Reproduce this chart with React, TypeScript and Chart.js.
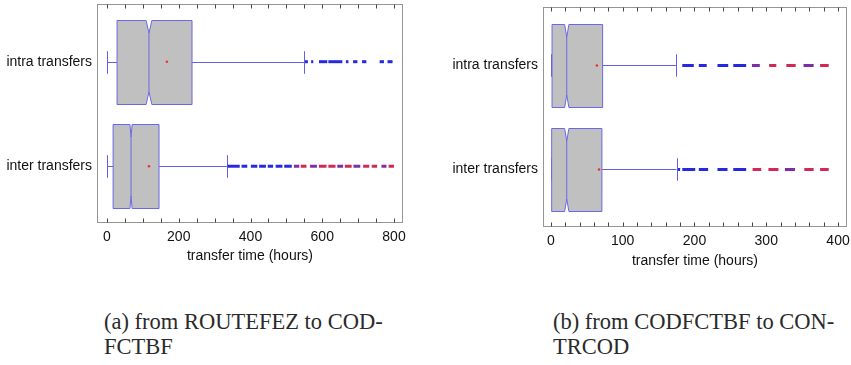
import React, { useEffect, useRef } from "react";
import { Chart, registerables } from "chart.js";

Chart.register(...registerables);

// ---------- data ----------
const CATEGORIES = ["intra transfers", "inter transfers"];

// Panel (a): from ROUTEFEZ to CODFCTBF (hours)
const A_WHISKER_LOW = [0, 0];
const A_Q1 = [28, 17];
const A_MEDIAN = [117, 67];
const A_Q3 = [237, 145];
const A_WHISKER_HIGH = [549, 334];
const A_MEAN = [167, 117];
const A_NOTCH = [8, 3];
const A_OUT_INTRA = [[552, 560], [569, 575], [591, 614], [617, 656], [666, 673], [686, 698], [711, 723], [760, 772], [782, 796]];
const A_OUT_INTRA_COLOR = ["b", "b", "b", "b", "b", "b", "b", "b", "b"];
const A_OUT_INTER = [[336, 370], [375, 391], [401, 419], [424, 443], [448, 463], [470, 489], [494, 515], [521, 536], [540, 556], [566, 585], [591, 612], [617, 637], [642, 658], [663, 682], [687, 706], [714, 731], [738, 753], [765, 779], [785, 800]];
const A_OUT_INTER_COLOR = ["b", "b", "b", "b", "b", "b", "b", "p", "r", "p", "r", "r", "p", "r", "p", "r", "r", "p", "r"];
const A_TICKS = [0, 50, 100, 150, 200, 250, 300, 350, 400, 450, 500, 550, 600, 650, 700, 750, 800];
const A_TICK_LABELS = [0, 200, 400, 600, 800];

// Panel (b): from CODFCTBF to CONTRCOD (hours)
const B_WHISKER_LOW = [0, 0];
const B_Q1 = [1.5, 1];
const B_MEDIAN = [22, 22];
const B_Q3 = [72, 71];
const B_WHISKER_HIGH = [174, 175];
const B_MEAN = [64, 67];
const B_NOTCH = [3, 3];
const B_OUT_INTRA = [[183, 199], [206, 217], [232, 247], [254, 272], [280, 291], [304, 314], [328, 341], [352, 366], [375, 387]];
const B_OUT_INTRA_COLOR = ["b", "b", "b", "b", "p", "r", "r", "p", "r"];
const B_OUT_INTER = [[177, 180], [183, 201], [206, 219], [232, 246], [254, 272], [281, 293], [303, 317], [326, 340], [353, 366], [375, 387]];
const B_OUT_INTER_COLOR = ["b", "b", "b", "b", "b", "r", "r", "p", "r", "r"];
const B_TICKS = [0, 20, 40, 60, 80, 100, 120, 140, 160, 180, 200, 220, 240, 260, 280, 300, 320, 340, 360, 380, 400];
const B_TICK_LABELS = [0, 100, 200, 300, 400];

// ---------- styles ----------
const BOX_STROKE = "rgb(105,105,230)";
const BOX_FILL = "rgb(192,192,192)";
const WHISKER = "rgb(95,95,235)";
const MEAN_COLOR = "rgb(235,50,50)";
const FRAME = "rgb(150,150,150)";
const OUT_COLORS: Record<string, string> = { b: "rgb(40,40,225)", p: "rgb(125,45,165)", r: "rgb(210,40,85)" };
const BOX_HALF = 0.4;
const SANS = "'Liberation Sans', Arial, sans-serif";

type Panel = {
  left: number; width: number; height: number;
  padTop: number; padRight: number; yAxisWidth: number; xAxisHeight: number;
  xMin: number; xMax: number; yMin: number; yMax: number;
  ticks: number[]; tickLabels: number[];
  wLow: number[]; q1: number[]; median: number[]; q3: number[]; wHigh: number[]; mean: number[]; notch: number[];
  outliers: number[][][]; outColors: string[][];
};

const PANEL_A: Panel = {
  left: 0, width: 425, height: 265, padTop: 3, padRight: 22, yAxisWidth: 97, xAxisHeight: 42,
  xMin: -27.9, xMax: 825.1, yMin: -0.552, yMax: 1.543,
  ticks: A_TICKS, tickLabels: A_TICK_LABELS,
  wLow: A_WHISKER_LOW, q1: A_Q1, median: A_MEDIAN, q3: A_Q3, wHigh: A_WHISKER_HIGH, mean: A_MEAN, notch: A_NOTCH,
  outliers: [A_OUT_INTRA, A_OUT_INTER], outColors: [A_OUT_INTRA_COLOR, A_OUT_INTER_COLOR],
};

const PANEL_B: Panel = {
  left: 425, width: 426, height: 270, padTop: 7, padRight: 4, yAxisWidth: 118, xAxisHeight: 43,
  xMin: -11.1, xMax: 412.5, yMin: -0.5625, yMax: 1.553,
  ticks: B_TICKS, tickLabels: B_TICK_LABELS,
  wLow: B_WHISKER_LOW, q1: B_Q1, median: B_MEDIAN, q3: B_Q3, wHigh: B_WHISKER_HIGH, mean: B_MEAN, notch: B_NOTCH,
  outliers: [B_OUT_INTRA, B_OUT_INTER], outColors: [B_OUT_INTRA_COLOR, B_OUT_INTER_COLOR],
};

function makePlugin(p: Panel) {
  return {
    id: "boxplotDraw",
    beforeDatasetsDraw(chart: any) {
      const { ctx } = chart;
      const xs = chart.scales.x;
      const ys = chart.scales.y;
      const px = (v: number) => xs.getPixelForValue(v);
      ctx.save();
      for (let i = 0; i < CATEGORIES.length; i++) {
        const ycRaw = ys.getPixelForValue(i);
        const yc = Math.round(ycRaw) + 0.5;
        const half = Math.abs(ys.getPixelForValue(i + BOX_HALF) - ycRaw);
        const top = Math.round(ycRaw - half) + 0.5;
        const bot = Math.round(ycRaw + half) + 0.5;
        const lo = px(p.wLow[i]);
        const a = px(p.q1[i]);
        const m = px(p.median[i]);
        const b = px(p.q3[i]);
        const hi = px(p.wHigh[i]);
        const nl = px(p.median[i] - p.notch[i]);
        const nr = px(p.median[i] + p.notch[i]);
        const d = (bot - top) * 0.15;
        const capH = half * 0.27;

        ctx.lineWidth = 1;
        ctx.strokeStyle = WHISKER;
        ctx.beginPath();
        ctx.moveTo(lo, yc);
        ctx.lineTo(a, yc);
        ctx.moveTo(b, yc);
        ctx.lineTo(hi, yc);
        ctx.moveTo(Math.round(lo) + 0.5, yc - capH);
        ctx.lineTo(Math.round(lo) + 0.5, yc + capH);
        ctx.moveTo(Math.round(hi) + 0.5, yc - capH);
        ctx.lineTo(Math.round(hi) + 0.5, yc + capH);
        ctx.stroke();

        ctx.beginPath();
        ctx.moveTo(a, top);
        ctx.lineTo(nl, top);
        ctx.lineTo(m, top + d);
        ctx.lineTo(nr, top);
        ctx.lineTo(b, top);
        ctx.lineTo(b, bot);
        ctx.lineTo(nr, bot);
        ctx.lineTo(m, bot - d);
        ctx.lineTo(nl, bot);
        ctx.lineTo(a, bot);
        ctx.closePath();
        ctx.fillStyle = BOX_FILL;
        ctx.fill();
        ctx.strokeStyle = BOX_STROKE;
        ctx.stroke();

        ctx.beginPath();
        ctx.moveTo(m, top + d);
        ctx.lineTo(m, bot - d);
        ctx.stroke();
      }
      ctx.restore();
    },
    afterDraw(chart: any) {
      const { ctx, chartArea } = chart;
      const xs = chart.scales.x;
      ctx.save();
      ctx.strokeStyle = FRAME;
      ctx.lineWidth = 1;
      const l = Math.round(chartArea.left) + 0.5;
      const r = Math.round(chartArea.right) - 0.5;
      const t = Math.round(chartArea.top) + 0.5;
      const bt = Math.round(chartArea.bottom) - 0.5;
      ctx.strokeRect(l, t, r - l, bt - t);
      ctx.strokeStyle = "rgb(70,70,70)";
      ctx.beginPath();
      for (const tk of xs.ticks) {
        const x = Math.round(xs.getPixelForValue(tk.value)) + 0.5;
        ctx.moveTo(x, bt);
        ctx.lineTo(x, bt - 4);
        ctx.moveTo(x, t);
        ctx.lineTo(x, t + 4);
      }
      ctx.stroke();
      ctx.restore();
    },
  };
}

function buildOutlierData(ranges: number[][], idx: number) {
  const out: any[] = [];
  for (const [s, e] of ranges) {
    out.push({ x: s, y: idx });
    out.push({ x: e, y: idx });
    out.push({ x: e, y: null });
  }
  return out;
}

function BoxPanel({ p }: { p: Panel }) {
  const ref = useRef<HTMLCanvasElement>(null);
  useEffect(() => {
    if (!ref.current) return;
    const datasets: any[] = [];
    p.outliers.forEach((ranges, i) => {
      const cols = p.outColors[i];
      datasets.push({
        type: "line",
        data: buildOutlierData(ranges, i),
        borderWidth: 3,
        borderCapStyle: "butt",
        pointRadius: 0,
        spanGaps: false,
        borderColor: OUT_COLORS.b,
        segment: {
          borderColor: (c: any) => OUT_COLORS[cols[Math.floor(c.p0DataIndex / 3)]] || OUT_COLORS.b,
        },
      });
    });
    datasets.push({
      type: "line",
      data: p.mean.map((v, i) => ({ x: v, y: i })),
      showLine: false,
      pointRadius: 1.3,
      pointBorderWidth: 0,
      pointBackgroundColor: MEAN_COLOR,
      borderColor: MEAN_COLOR,
    });

    const chart = new Chart(ref.current, {
      type: "line",
      data: { datasets },
      plugins: [makePlugin(p)],
      options: {
        animation: false,
        responsive: false,
        events: [],
        layout: { padding: { top: p.padTop, right: p.padRight, left: 0, bottom: 0 } },
        plugins: { legend: { display: false }, tooltip: { enabled: false } },
        scales: {
          x: {
            type: "linear",
            min: p.xMin,
            max: p.xMax,
            grid: { display: false, drawTicks: false },
            border: { display: false },
            afterBuildTicks: (s: any) => {
              s.ticks = p.ticks.map((v) => ({ value: v }));
            },
            afterFit: (s: any) => {
              s.height = p.xAxisHeight;
              s.paddingLeft = 0;
              s.paddingRight = 0;
            },
            ticks: {
              autoSkip: false,
              maxRotation: 0,
              padding: 6,
              color: "#111",
              font: { family: SANS, size: 14 },
              callback: (v: any) => (p.tickLabels.includes(v) ? String(v) : ""),
            },
            title: {
              display: true,
              text: "transfer time (hours)",
              color: "#111",
              font: { family: SANS, size: 14 },
              padding: { top: 0, bottom: 0 },
            },
          },
          y: {
            type: "linear",
            reverse: true,
            min: p.yMin,
            max: p.yMax,
            grid: { display: false, drawTicks: false },
            border: { display: false },
            afterBuildTicks: (s: any) => {
              s.ticks = CATEGORIES.map((_, i) => ({ value: i }));
            },
            afterFit: (s: any) => {
              s.width = p.yAxisWidth;
              s.paddingTop = 0;
              s.paddingBottom = 0;
            },
            ticks: {
              padding: 5,
              color: "#111",
              font: { family: SANS, size: 14 },
              callback: (v: any) => CATEGORIES[v] ?? "",
            },
          },
        },
      } as any,
    });
    return () => chart.destroy();
  }, [p]);
  return (
    <canvas
      ref={ref}
      width={p.width}
      height={p.height}
      style={{ position: "absolute", left: p.left, top: 0, width: p.width, height: p.height }}
    />
  );
}

const captionStyle: React.CSSProperties = {
  position: "absolute",
  fontFamily: "'Liberation Serif', 'DejaVu Serif', serif",
  fontSize: 22.5,
  lineHeight: "25px",
  color: "#2a2a2a",
  whiteSpace: "nowrap",
};

export default function App() {
  return (
    <div style={{ position: "fixed", left: 0, top: 0, width: 851, height: 365, background: "#fff", overflow: "hidden" }}>
      <BoxPanel p={PANEL_A} />
      <BoxPanel p={PANEL_B} />
      <div style={{ ...captionStyle, left: 104, top: 309 }}>
        (a) from ROUTEFEZ to COD-
        <br />
        FCTBF
      </div>
      <div style={{ ...captionStyle, left: 553, top: 309 }}>
        (b) from CODFCTBF to CON-
        <br />
        TRCOD
      </div>
    </div>
  );
}
